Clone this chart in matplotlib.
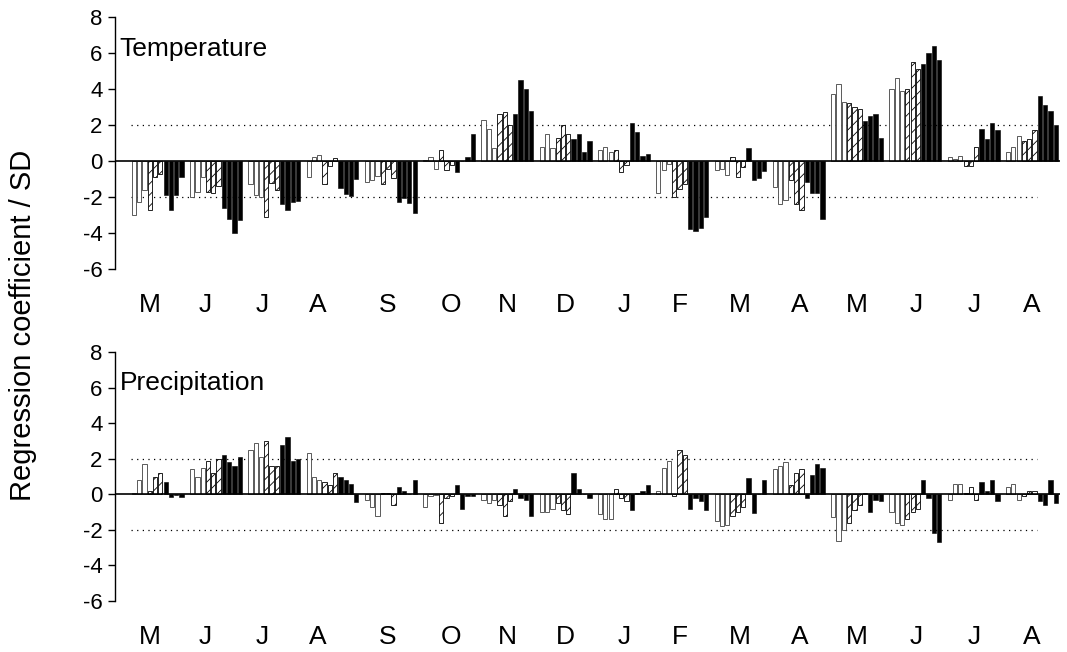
import numpy as np
import matplotlib
matplotlib.use("Agg")
import matplotlib.pyplot as plt

plt.rcParams['font.family'] = ['Liberation Sans', 'DejaVu Sans']
plt.rcParams['hatch.linewidth'] = 0.6

# month labels (May of year 1 .. August of year 2)
months = ["M", "J", "J", "A", "S", "O", "N", "D", "J", "F", "M", "A", "M", "J", "J", "A"]
# the labels in the original sit a little left of the group centre for the first months
label_shift = [-1.45, -2.1, -2.3, -2.75, -0.55, 0.4, 0, 0, 0, -0.5, -0.2, 0.2, 0, 0.2, 0.2, 0]

# 10 bars per month: 3 open, 3 hatched, 4 solid
temperature = [
    [-3.0, -2.3, -1.6, -2.7, -0.9, -0.7, -1.9, -2.7, -1.9, -0.9],
    [-2.0, -1.7, -0.9, -1.7, -1.8, -1.4, -2.6, -3.2, -4.0, -3.3],
    [-1.3, -1.9, -2.0, -3.1, -1.2, -1.6, -2.4, -2.7, -2.3, -2.2],
    [-0.9, 0.2, 0.35, -1.25, -0.25, 0.18, -1.5, -1.85, -1.95, -1.0],
    [-1.15, -1.05, -0.85, -1.25, -0.45, -0.95, -2.25, -2.05, -2.35, -2.9],
    [0.05, 0.2, -0.45, 0.6, -0.5, -0.2, -0.6, 0.0, 0.2, 1.5],
    [2.3, 1.8, 0.7, 2.6, 2.7, 2.0, 2.6, 4.5, 4.0, 2.8],
    [0.8, 1.5, 0.7, 1.3, 2.0, 1.5, 1.2, 1.5, 0.5, 1.1],
    [0.6, 0.8, 0.5, 0.6, -0.6, -0.2, 2.1, 1.6, 0.3, 0.4],
    [-1.8, -0.5, -0.15, -2.0, -1.55, -1.3, -3.8, -3.9, -3.7, -3.1],
    [-0.5, -0.45, -0.75, 0.25, -0.9, -0.35, 0.7, -1.05, -0.95, -0.55],
    [-1.45, -2.4, -2.15, -1.05, -2.4, -2.7, -1.15, -1.8, -1.8, -3.2],
    [3.7, 4.3, 3.3, 3.2, 3.0, 2.9, 2.2, 2.5, 2.6, 1.3],
    [4.0, 4.6, 3.9, 4.0, 5.5, 5.1, 5.4, 6.0, 6.4, 5.6],
    [0.2, 0.1, 0.3, -0.3, -0.3, 0.8, 1.8, 1.2, 2.1, 1.7],
    [0.5, 0.8, 1.4, 1.1, 1.2, 1.7, 3.6, 3.1, 2.8, 2.0],
]

precipitation = [
    [0.07, 0.8, 1.7, 0.2, 1.0, 1.2, 0.7, -0.15, -0.05, -0.15],
    [1.4, 1.0, 1.5, 1.9, 1.2, 2.0, 2.2, 1.8, 1.6, 2.1],
    [2.5, 2.9, 2.1, 3.0, 1.6, 1.6, 2.8, 3.2, 1.9, 2.0],
    [2.3, 1.0, 0.8, 0.7, 0.55, 1.2, 1.0, 0.8, 0.6, -0.45],
    [-0.3, -0.7, -1.2, 0.1, 0.1, -0.6, 0.4, 0.2, 0.0, 0.8],
    [-0.7, -0.1, -0.05, -1.6, -0.2, -0.1, 0.5, -0.8, -0.1, -0.1],
    [-0.3, -0.5, -0.3, -0.6, -1.2, -0.4, 0.3, -0.2, -0.3, -1.2],
    [-1.0, -1.0, -0.8, -0.5, -0.9, -1.1, 1.2, 0.3, 0.0, -0.2],
    [-1.1, -1.4, -1.4, 0.3, -0.2, -0.4, -0.9, 0.1, 0.2, 0.5],
    [0.2, 1.5, 1.9, -0.1, 2.5, 2.2, -0.8, -0.2, -0.4, -0.9],
    [-1.5, -1.8, -1.7, -1.2, -1.0, -0.7, 0.9, -1.05, 0.0, 0.8],
    [1.4, 1.6, 1.8, 0.5, 1.2, 1.4, -0.2, 1.1, 1.7, 1.5],
    [-1.3, -2.6, -2.0, -1.6, -0.9, -0.6, 0.1, -1.0, -0.3, -0.4],
    [-1.0, -1.6, -1.7, -1.4, -1.0, -0.8, 0.8, -0.2, -2.2, -2.7],
    [-0.3, 0.6, 0.6, 0.1, 0.4, -0.3, 0.7, 0.2, 0.8, -0.4],
    [0.4, 0.6, -0.3, -0.1, 0.2, 0.2, -0.4, -0.6, 0.8, -0.5],
]

yticks = [-6, -4, -2, 0, 2, 4, 6, 8]
SLOT = 11  # 10 bars + 1 gap per month


def draw_panel(ax, values, title):
    vals = np.array(values)
    n_month, n_bar = vals.shape
    for j in range(n_bar):
        x = np.arange(n_month) * SLOT + j
        if j < 3:
            ax.bar(x, vals[:, j], width=0.8, color="white", edgecolor="#404040",
                   linewidth=0.6, zorder=2)
        elif j < 6:
            ax.bar(x, vals[:, j], width=0.8, color="white", edgecolor="black",
                   linewidth=0.6, hatch="///", zorder=2)
        else:
            ax.bar(x, vals[:, j], width=0.8, color="black", edgecolor="black",
                   linewidth=0.4, zorder=2)
    ax.axhline(0, color="black", lw=1.2, zorder=3)
    for yv in (2, -2):
        ax.plot([-0.6, 170.5], [yv, yv], color="black", lw=0.9,
                linestyle=(0, (1, 3.5)), zorder=1)
    ax.set_xlim(-3.55, 174.8)
    ax.set_ylim(-6, 8)
    ax.set_yticks(yticks)
    ax.set_yticklabels([str(t) for t in yticks], fontsize=16)
    ax.set_xticks(np.arange(n_month) * SLOT + 4.5 + np.array(label_shift))
    ax.set_xticklabels(months, fontsize=19)
    ax.tick_params(axis="x", length=0, pad=17.5)
    ax.tick_params(axis="y", direction="out", length=5, width=1, pad=4)
    for s in ("top", "right", "bottom"):
        ax.spines[s].set_visible(False)
    ax.spines["left"].set_linewidth(1)
    ax.text(0.005, 0.875, title, transform=ax.transAxes, fontsize=19,
            ha="left", va="center")


fig = plt.figure(figsize=(10.67, 6.52), dpi=100)
ax1 = fig.add_axes([0.1078, 0.5874, 0.8856, 0.3865])
ax2 = fig.add_axes([0.1078, 0.0782, 0.8856, 0.3819])

draw_panel(ax1, temperature, "Temperature")
draw_panel(ax2, precipitation, "Precipitation")

fig.text(0.022, 0.5015, "Regression coefficient / SD", rotation=90,
         ha="center", va="center", fontsize=21)

fig.savefig("out.png", dpi=100)
